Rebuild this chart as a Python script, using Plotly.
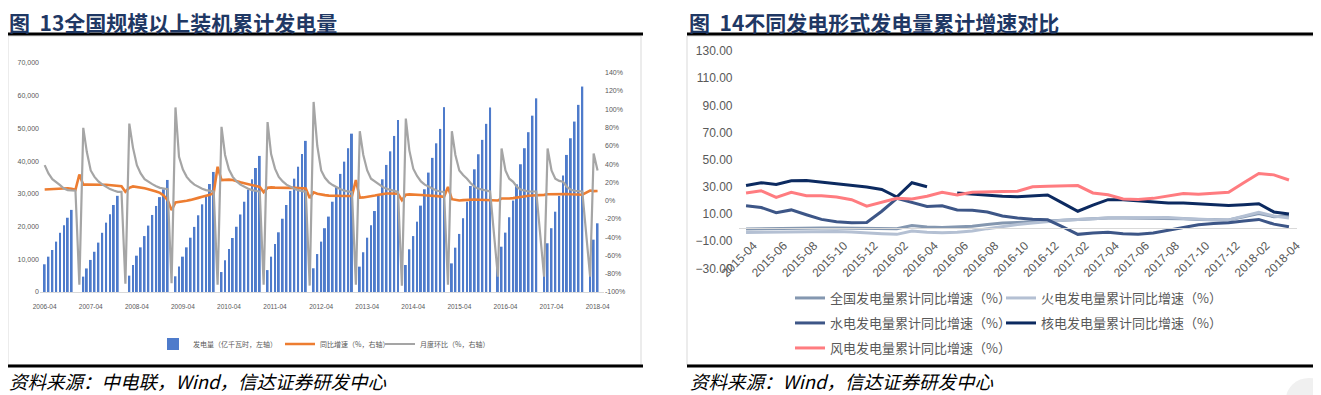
import plotly.graph_objects as go

# page body has an 8px default margin; work in page pixels and convert
OX, OY = 8, 8
W, H = 1313, 387


def month_range(y0, m0, y1, m1):
    out = []
    y, m = y0, m0
    while (y, m) <= (y1, m1):
        out.append(f"{y}-{m:02d}")
        m += 1
        if m > 12:
            m, y = 1, y + 1
    return out


# ---------------- Chart 13 data (2006-04 .. 2018-04) ----------------
months13 = month_range(2006, 4, 2018, 4)
tick_years13 = [f"{y}-04" for y in range(2006, 2019)]

# cumulative generation, 100 GWh (left axis)
gen_2006 = [8470, 10800, 12840, 15400, 18100, 20400, 22700, 25100, None]
gen_2007 = [None, 4700, 7200, 9800, 12300, 15100, 18100, 21200, 23800, 26600, 29400, None]
gen_2008 = [None, 5000, 8250, 11100, 13650, 17100, 20300, 23550, 26300, 29000, 31400, 34250]
gen_2009 = [None, 4800, 7800, 10800, 13650, 16600, 19900, 23450, 26800, 29650, 33000, 36700]
gen_2010 = [None, 6100, 9700, 13150, 16500, 19950, 23700, 27600, 31300, 34450, 37900, 41600]
gen_2011 = [None, 6700, 10800, 14700, 18250, 22400, 26600, 30900, 34650, 38300, 42200, 46200]
gen_2012 = [None, 7250, 11600, 15400, 19500, 23050, 27600, 32000, 36100, 39850, 43950, 48400]
gen_2013 = [None, 7750, 12150, 16600, 20400, 24750, 29650, 34450, 38850, 43000, 47700, 52600]
gen_2014 = [None, 8250, 13050, 17100, 21500, 26400, 31400, 36500, 41000, 45450, 49850, 56500]
gen_2015 = [None, 8750, 13550, 17750, 22550, 27600, 32400, 37500, 42100, 46500, 51400, 56400]
gen_2016 = [None, 9300, 13850, 18150, 22850, 27950, 32900, 39050, 43950, 48850, 53900, 59200]
gen_2017 = [None, 9700, 14900, 19500, 24550, 29350, 35600, 41900, 47000, 52100, 57200, 62800]
gen_2018 = [None, 10300, 16000, 21000]

# YoY growth, % (right axis)
yoy_2006 = [12.2, 12.5, 13.0, 13.3, 13.5, 13.6, 13.6, 13.0, 11.8]
yoy_2007 = [28.6, 17.5, 17.7, 17.8, 17.7, 17.5, 17.4, 17.3, 17.0, 16.8, 16.4, 15.8]
yoy_2008 = [9.7, 14.0, 15.5, 15.0, 14.4, 13.5, 12.5, 11.5, 10.0, 8.5, 5.5, 0.5]
yoy_2009 = [-10.4, -2.0, -1.5, -1.3, -0.2, 0.8, 1.6, 3.0, 4.2, 5.2, 6.5, 8.5]
yoy_2010 = [37.0, 22.4, 23.0, 23.0, 22.5, 21.0, 20.0, 19.0, 18.2, 17.0, 16.0, 15.0]
yoy_2011 = [9.3, 14.0, 14.5, 14.2, 14.0, 14.0, 14.0, 14.0, 14.0, 13.8, 13.6, 13.3]
yoy_2012 = [3.0, 9.0, 7.5, 6.5, 6.0, 5.5, 5.2, 5.0, 5.0, 5.0, 5.0, 5.0]
yoy_2013 = [22.4, 3.2, 3.5, 4.0, 4.5, 5.5, 6.5, 7.5, 7.8, 7.8, 7.7, 7.5]
yoy_2014 = [0.5, 6.5, 6.8, 6.8, 6.6, 6.2, 5.8, 5.3, 5.0, 4.8, 4.6, 4.2]
yoy_2015 = [15.0, 1.6, 0.8, 0.2, 0.5, 1.0, 1.2, 1.2, 1.0, 0.8, 0.5, 0.3]
yoy_2016 = [None, 0.2, 2.3, 2.0, 2.3, 2.7, 3.5, 4.5, 5.0, 5.3, 5.6, 5.7]
yoy_2017 = [None, 6.3, 7.0, 7.2, 7.0, 7.0, 7.3, 7.3, 7.0, 6.8, 6.6, 6.5]
yoy_2018 = [None, 11.0, 10.4, 10.6]

# month-on-month change, % (right axis)
mom_2006 = [38.8, 29.7, 23.5, 20.5, 17.0, 13.3, 11.5, 11.1, 11.0]
mom_2007 = [-92.0, 79.6, 53.4, 33.0, 26.0, 21.0, 17.7, 15.0, 12.6, 11.0, 9.6, 9.6]
mom_2008 = [-91.0, 84.3, 58.0, 38.8, 29.7, 23.5, 20.6, 18.0, 15.8, 14.0, 13.3, 12.6]
mom_2009 = [-90.5, 102.0, 48.0, 34.0, 26.0, 21.0, 17.5, 15.0, 13.0, 11.5, 10.5, 10.0]
mom_2010 = [-92.0, 80.7, 50.0, 34.0, 26.0, 21.0, 17.5, 15.0, 13.0, 11.5, 10.5, 9.8]
mom_2011 = [-92.0, 86.0, 51.0, 35.0, 26.0, 21.0, 17.5, 15.0, 13.0, 11.5, 10.5, 9.5]
mom_2012 = [-93.0, 108.0, 60.0, 33.0, 25.0, 20.0, 17.0, 14.5, 12.5, 11.0, 10.0, 9.2]
mom_2013 = [-92.0, 76.0, 50.0, 33.0, 24.0, 21.0, 17.5, 15.0, 13.0, 12.0, 10.5, 9.5]
mom_2014 = [-93.0, 89.8, 55.0, 35.0, 27.0, 21.0, 17.5, 15.0, 12.5, 11.0, 10.0, 9.5]
mom_2015 = [-92.0, 76.0, 50.0, 33.0, 28.0, 24.0, 19.0, 15.0, 13.0, 12.0, 11.0, 10.0]
mom_2016 = [None, -83.2, 57.0, 33.0, 24.0, 20.6, 15.0, 12.0, 10.8, 10.0, 10.0, 10.0]
mom_2017 = [None, -83.2, 57.0, 33.0, 24.0, 21.6, 20.6, 15.0, 11.9, 10.8, 10.0, 10.0]
mom_2018 = [None, -83.2, 51.5, 33.0]

gen13 = (gen_2006 + gen_2007 + gen_2008 + gen_2009 + gen_2010 + gen_2011 + gen_2012
         + gen_2013 + gen_2014 + gen_2015 + gen_2016 + gen_2017 + gen_2018)
yoy13 = (yoy_2006 + yoy_2007 + yoy_2008 + yoy_2009 + yoy_2010 + yoy_2011 + yoy_2012
         + yoy_2013 + yoy_2014 + yoy_2015 + yoy_2016 + yoy_2017 + yoy_2018)
mom13 = (mom_2006 + mom_2007 + mom_2008 + mom_2009 + mom_2010 + mom_2011 + mom_2012
         + mom_2013 + mom_2014 + mom_2015 + mom_2016 + mom_2017 + mom_2018)

left_ticks13 = list(range(0, 70001, 10000))
right_ticks13 = list(range(-100, 141, 20))
right_labels13 = [f"{v}%" for v in right_ticks13]

# ---------------- Chart 14 data (2015-04 .. 2018-04) ----------------
months14 = month_range(2015, 4, 2018, 4)
total14 = [-1.0, -0.8, -0.6, -0.5, -0.3, -0.3, -0.4, -0.5, -0.6, -0.9, -0.8, 1.5, 0.4, 0.0, 0.5, 1.0,
           2.2, 3.3, 3.8, 4.3, 5.0, 5.8, 6.3, 6.7, 7.0, 7.0, 6.9, 6.9, 6.8, 6.5, 6.0, 5.8, 5.6,
           8.0, 10.3, 8.0, 8.5]
thermal14 = [-3.6, -3.4, -3.2, -3.0, -2.8, -2.8, -2.9, -3.2, -3.6, -4.5, -5.0, -2.5, -3.5, -3.8, -3.4,
             -2.6, -0.8, 0.8, 2.2, 3.3, 4.5, 5.3, 6.0, 6.8, 7.1, 7.3, 7.5, 7.7, 7.4, 6.6, 6.0, 5.7,
             5.6, 8.5, 11.3, 8.5, 7.1]
hydro14 = [16.0, 14.8, 11.0, 13.0, 9.4, 6.0, 4.2, 3.6, 3.8, 12.0, 21.5, 18.5, 15.5, 16.0, 13.0, 12.8,
           11.5, 8.5, 7.0, 6.2, 5.7, 0.5, -5.0, -4.0, -3.5, -4.5, -5.0, -4.0, -2.0, 0.0, 2.0, 3.0,
           3.5, 4.8, 6.0, 2.5, 0.6]
nuclear14 = [31.0, 33.0, 31.8, 34.5, 34.6, 33.5, 32.0, 31.0, 29.8, 28.0, 22.5, 33.0, 30.0, None, 25.5,
             24.5, 23.5, 23.0, 22.7, 23.5, 24.0, 18.0, 12.0, 16.5, 20.5, 20.5, 19.5, 18.5, 18.0, 18.0,
             17.5, 17.0, 16.2, 16.8, 17.5, 11.5, 10.0]
wind14 = [25.4, 27.1, 22.2, 25.9, 23.4, 23.4, 22.5, 20.5, 15.8, 18.5, 21.5, 21.0, 23.0, 25.9, 24.0,
          26.0, 26.5, 26.5, 26.7, 30.0, 30.5, 30.7, 30.9, 25.5, 24.2, 21.0, 20.6, 21.5, 23.0, 25.0,
          24.5, 25.0, 26.0, 33.0, 39.8, 38.8, 35.0]
names14 = ["全国发电量累计同比增速（%）", "火电发电量累计同比增速（%）", "水电发电量累计同比增速（%）",
           "核电发电量累计同比增速（%）", "风电发电量累计同比增速（%）"]
colors14 = ["#8497B0", "#B4C0D3", "#3D5687", "#0C2A60", "#FF7C80"]
y_ticks14 = list(range(-30, 131, 20))


# ---------------- helpers (page pixel -> paper) ----------------
def px(x):
    return (x - OX) / W


def py(y):
    return 1 - (y - OY) / H


GREY_TXT = "#595959"
CJK = "Noto Sans CJK SC"
LAT = "Liberation Sans"

fig = go.Figure()

# Chart 13 traces
fig.add_trace(go.Bar(x=months13, y=gen13, name="发电量（亿千瓦时，左轴）", marker_color="#4E7BCB",
                     marker_line_width=0, xaxis="x", yaxis="y", legend="legend", showlegend=True))
fig.add_trace(go.Scatter(x=months13, y=yoy13, name="同比增速（%，右轴）", mode="lines",
                         line=dict(color="#ED7D31", width=2.6), connectgaps=True,
                         xaxis="x", yaxis="y2", legend="legend2"))
fig.add_trace(go.Scatter(x=months13, y=mom13, name="月度环比（%，右轴）", mode="lines",
                         line=dict(color="#A5A5A5", width=2.2), connectgaps=True,
                         xaxis="x", yaxis="y2", legend="legend3"))

# Chart 14 traces
series14 = [total14, thermal14, hydro14, nuclear14, wind14]
for k, (vals, nm, col) in enumerate(zip(series14, names14, colors14)):
    fig.add_trace(go.Scatter(x=months14, y=vals, name=nm, mode="lines",
                             line=dict(color=col, width=3), connectgaps=False,
                             xaxis="x2", yaxis="y3", legend=f"legend{k + 4}"))

# axes
y13_lo, y13_hi = 292, 63
r_per_px = 20 / 18.3  # right axis units per pixel
right_top = 140 + (72.7 - y13_hi) * r_per_px

fig.update_layout(
    width=W, height=H,
    margin=dict(l=0, r=0, t=0, b=0),
    paper_bgcolor="white", plot_bgcolor="white",
    showlegend=True,
    bargap=0.45,
    xaxis=dict(domain=[px(40), px(604)], type="date", range=["2006-02-23", "2018-05-22"],
               anchor="y", tickmode="array", tickvals=tick_years13, ticktext=tick_years13,
               tickfont=dict(family=LAT, size=6.5, color=GREY_TXT), showline=True,
               linecolor="#D9D9D9", linewidth=1, showgrid=False, zeroline=False, ticks="",
               ticklabelstandoff=8, automargin=False),
    yaxis=dict(domain=[py(y13_lo), py(y13_hi)], range=[0, 70000], anchor="x",
               tickmode="array", tickvals=left_ticks13, tickformat=",",
               tickfont=dict(family=LAT, size=7, color=GREY_TXT), showgrid=False,
               zeroline=False, showline=False, ticks="", automargin=False),
    yaxis2=dict(overlaying="y", side="right", anchor="x", range=[-100, right_top],
                tickmode="array", tickvals=right_ticks13, ticktext=right_labels13,
                tickfont=dict(family=LAT, size=7, color=GREY_TXT), showgrid=False,
                zeroline=False, showline=False, ticks="", automargin=False),
    xaxis2=dict(domain=[px(738.5), px(1296.5)], type="category", range=[-0.5, len(months14) - 0.5],
                anchor="free", position=py(227.8), tickmode="array",
                tickvals=[i + 0.5 for i in range(0, len(months14), 2)],
                ticktext=months14[::2], tickangle=-45,
                tickfont=dict(family=LAT, size=12, color=GREY_TXT), showline=True,
                linecolor="#D9D9D9", linewidth=1.3, showgrid=False, zeroline=False, ticks="",
                ticklabelstandoff=5, automargin=False),
    yaxis3=dict(domain=[py(268.3), py(51)], range=[-30, 130], anchor="x2", tickmode="array",
                tickvals=y_ticks14, tickformat=".2f",
                tickfont=dict(family=LAT, size=12, color=GREY_TXT), showgrid=False,
                zeroline=False, showline=False, ticks="", ticklabelstandoff=5, automargin=False),
)

# legends
leg_common = dict(orientation="h", xanchor="left", yanchor="middle", bgcolor="rgba(0,0,0,0)",
                  borderwidth=0)
small_font = dict(family=CJK, size=7, color=GREY_TXT)
big_font = dict(family=CJK, size=13, color=GREY_TXT)
fig.update_layout(
    legend=dict(x=px(153), y=py(344), font=small_font, **leg_common),
    legend2=dict(x=px(280), y=py(344), font=small_font, **leg_common),
    legend3=dict(x=px(380), y=py(344), font=small_font, **leg_common),
    legend4=dict(x=px(790), y=py(298), font=big_font, **leg_common),
    legend5=dict(x=px(1001), y=py(298), font=big_font, **leg_common),
    legend6=dict(x=px(790), y=py(323), font=big_font, **leg_common),
    legend7=dict(x=px(1001), y=py(323), font=big_font, **leg_common),
    legend8=dict(x=px(790), y=py(348), font=big_font, **leg_common),
)

# frames, rules, watermark
shapes = [
    dict(type="rect", xref="paper", yref="paper", x0=px(8), x1=px(641), y0=py(365), y1=py(36),
         line=dict(color="#D9D9D9", width=1), layer="below"),
    dict(type="rect", xref="paper", yref="paper", x0=px(687), x1=px(1315), y0=py(365), y1=py(36),
         line=dict(color="#D9D9D9", width=1), layer="below"),
    dict(type="circle", xref="paper", yref="paper", x0=px(1286), x1=px(1332), y0=py(420),
         y1=py(378), fillcolor="#F0F0F0", line=dict(width=0), layer="below"),
]
for (xa, xb) in [(7, 643), (687, 1330)]:
    for yy in (34, 366):
        shapes.append(dict(type="line", xref="paper", yref="paper", x0=px(xa), x1=px(xb),
                           y0=py(yy), y1=py(yy), line=dict(color="black", width=3)))
fig.update_layout(shapes=shapes)

# titles and sources
title_font = dict(family=CJK, size=21, color="#1F3864", weight="bold")
src_font = dict(family=CJK, size=18.5, color="black", style="italic")
fig.update_layout(annotations=[
    dict(text="图\u00a0\u00a013全国规模以上装机累计发电量", xref="paper", yref="paper", x=px(7),
         y=py(22), xanchor="left", yanchor="middle", showarrow=False, font=title_font),
    dict(text="图\u00a0\u00a014不同发电形式发电量累计增速对比", xref="paper", yref="paper", x=px(687),
         y=py(22), xanchor="left", yanchor="middle", showarrow=False, font=title_font),
    dict(text="资料来源：中电联，Wind，信达证券研发中心", xref="paper", yref="paper", x=px(7),
         y=py(381), xanchor="left", yanchor="middle", showarrow=False, font=src_font),
    dict(text="资料来源：Wind，信达证券研发中心", xref="paper", yref="paper", x=px(688),
         y=py(381), xanchor="left", yanchor="middle", showarrow=False, font=src_font),
])

fig.write_html("out.html")
